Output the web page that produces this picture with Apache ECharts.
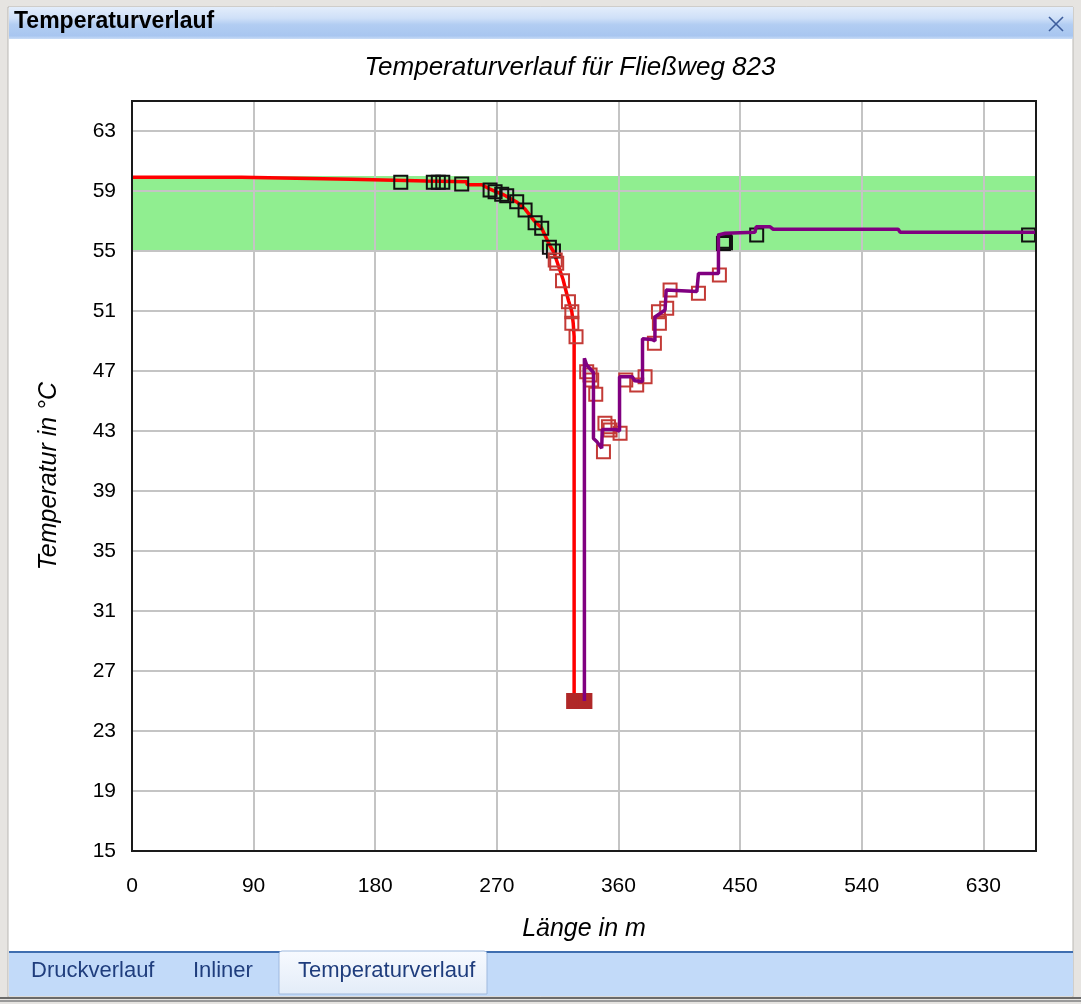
<!DOCTYPE html>
<html>
<head>
<meta charset="utf-8">
<script src="https://cdn.jsdelivr.net/npm/echarts@6/dist/echarts.min.js"></script>
<style>
html,body{margin:0;padding:0;background:#fff;}
#chart{width:1081px;height:1004px;}
</style>
</head>
<body>
<div id="chart"></div>
<script>
// ---- data ----
const xTicks = [0, 90, 180, 270, 360, 450, 540, 630];
const yTicks = [15, 19, 23, 27, 31, 35, 39, 43, 47, 51, 55, 59, 63];
const bandLow = 55;
const bandHigh = 60;
const tabNames = ['Druckverlauf', 'Inliner', 'Temperaturverlauf'];

// red temperature path (length m, temperature °C)
const redPath = [
  [0, 59.91], [81, 59.91], [81, 59.78], [162, 59.78], [162, 59.67], [218, 59.67],
  [218, 59.62], [248, 59.62], [248, 59.42], [259, 59.42], [265, 59.12], [270, 58.92],
  [275, 58.75], [280, 58.5], [285, 58.25], [291, 57.78], [298, 56.98], [303, 56.55],
  [309, 55.4], [312, 54.95], [314.5, 54.3], [319, 53.1], [323, 51.7], [325.5, 50.95],
  [326.5, 50.2], [327.2, 49.3], [327.2, 25]
];

// purple temperature path
const purplePath = [
  [334.8, 25], [334.8, 47.85], [336.5, 47.4], [341.5, 46.9], [341.5, 42.5], [343.9, 42.3],
  [347.6, 41.85], [348, 43.1], [358, 43.1], [360.8, 43.0], [360.8, 46.62], [370.2, 46.62],
  [372, 46.35], [377.8, 46.3], [377.8, 49.15], [384.6, 49.1], [387, 49.0], [387, 50.6],
  [394.5, 51.07], [395.3, 51.2], [395.3, 52.4], [418, 52.3], [419.2, 52.3], [419.2, 53.5],
  [434, 53.5], [434, 56.07], [439, 56.18], [461, 56.25], [462, 56.62], [472, 56.62],
  [474.5, 56.45], [567, 56.45], [568.5, 56.25], [669, 56.25]
];

// measurement markers
const markers = [
  [198.9, 59.58], [223, 59.58], [226.7, 59.58], [230, 59.58], [244, 59.47], [265, 59.07],
  [268.7, 58.95], [273.6, 58.78], [277.3, 58.69], [284.7, 58.29], [290.9, 57.73],
  [298.3, 56.89], [303.2, 56.51], [308.9, 55.25], [311.9, 55.0],
  [313.2, 54.4], [314.3, 54.18], [318.6, 53.02], [323, 51.62], [325.5, 50.95], [325.5, 50.18],
  [328.6, 49.29], [336.5, 46.95], [339, 46.73], [340.2, 46.4], [343.2, 45.45], [348.9, 41.62],
  [350, 43.51], [352.6, 43.29], [353.8, 43.07], [361.2, 42.85], [365.4, 46.4], [373.5, 46.07],
  [379.7, 46.62], [386.6, 48.85], [389.6, 50.95], [390.3, 50.18], [395.7, 51.18], [398.2, 52.4],
  [419.2, 52.18], [434.7, 53.4],
  [437.7, 55.5], [438.5, 55.65], [439.2, 55.55], [462.3, 56.07], [663.5, 56.07]
];
const lowMarkers = [[327.2, 25], [334.8, 25]];

const inBand = markers.filter(p => p[1] >= bandLow && p[1] <= bandHigh);
const outBand = markers.filter(p => p[1] < bandLow || p[1] > bandHigh);

const FONT = 'Liberation Sans, Arial, sans-serif';

const chart = echarts.init(document.getElementById('chart'));

const option = {
  backgroundColor: '#ffffff',
  animation: false,
  title: {
    text: 'Temperaturverlauf für Fließweg 823',
    left: 570,
    top: 55,
    padding: 0,
    textAlign: 'center',
    textStyle: {fontFamily: FONT, fontSize: 26, fontStyle: 'italic', fontWeight: 'normal', color: '#000'}
  },
  grid: {
    left: 132, top: 101, right: 45, bottom: 153,
    show: true, borderColor: '#1a1a1a', borderWidth: 2, backgroundColor: 'transparent',
    z: 10
  },
  xAxis: {
    type: 'value', min: 0, max: 669,
    z: 2,
    name: 'Länge in m', nameLocation: 'middle', nameGap: 66,
    nameTextStyle: {fontFamily: FONT, fontSize: 25, fontStyle: 'italic', color: '#000'},
    axisLine: {show: false},
    axisTick: {show: false, customValues: xTicks},
    axisLabel: {customValues: xTicks, fontFamily: FONT, fontSize: 21, color: '#000', margin: 25},
    splitLine: {show: true, lineStyle: {color: '#c4c4c4', width: 2}}
  },
  yAxis: {
    type: 'value', min: 15, max: 65,
    z: 2,
    name: 'Temperatur in °C', nameLocation: 'middle', nameGap: 70, nameRotate: 90,
    nameTextStyle: {fontFamily: FONT, fontSize: 25, fontStyle: 'italic', color: '#000'},
    axisLine: {show: false},
    axisTick: {show: false, customValues: yTicks},
    axisLabel: {customValues: yTicks, fontFamily: FONT, fontSize: 21, color: '#000', margin: 16},
    splitLine: {show: true, lineStyle: {color: '#c4c4c4', width: 2}}
  },
  series: [
    {
      name: 'band', type: 'line', data: [], z: 1,
      markArea: {
        silent: true,
        itemStyle: {color: '#90ee90', opacity: 1},
        data: [[{yAxis: bandLow}, {yAxis: bandHigh}]]
      }
    },
    {
      name: 'rot', type: 'line', data: redPath, z: 3,
      showSymbol: false, symbol: 'none',
      lineStyle: {color: '#ff0000', width: 3.5}
    },
    {
      name: 'inBand', type: 'scatter', data: inBand, z: 4,
      symbol: 'rect', symbolSize: 13,
      itemStyle: {color: 'rgba(0,0,0,0)', borderColor: '#111', borderWidth: 2, opacity: 1}
    },
    {
      name: 'outBand', type: 'scatter', data: outBand, z: 4,
      symbol: 'rect', symbolSize: 13,
      itemStyle: {color: 'rgba(0,0,0,0)', borderColor: '#c33a36', borderWidth: 2, opacity: 1}
    },
    {
      name: 'low', type: 'scatter', data: lowMarkers, z: 4,
      symbol: 'rect', symbolSize: [14, 14],
      itemStyle: {color: '#b02828', borderColor: '#b02828', borderWidth: 2, opacity: 1}
    },
    {
      name: 'violett', type: 'line', data: purplePath, z: 5,
      showSymbol: false, symbol: 'none',
      lineStyle: {color: '#800080', width: 3.5}
    }
  ],
  graphic: [
    // window frame
    {type: 'rect', z: -10, silent: true, shape: {x: 0, y: 0, width: 1081, height: 1004}, style: {fill: '#e6e4e1'}},
    {type: 'rect', z: -9, silent: true, shape: {x: 8, y: 7, width: 1065, height: 990}, style: {fill: '#ffffff', stroke: '#b9b7b3', lineWidth: 1}},
    // title bar
    {type: 'rect', z: -8, silent: true, shape: {x: 9, y: 7, width: 1064, height: 32},
      style: {fill: {type: 'linear', x: 0, y: 0, x2: 0, y2: 1, colorStops: [
        {offset: 0, color: '#e3edfb'}, {offset: 0.35, color: '#cfe0f8'},
        {offset: 0.55, color: '#b2cdf2'}, {offset: 0.9, color: '#a8c6f0'}, {offset: 1, color: '#c9dcf6'}]}}},
    {type: 'text', z: -7, silent: true, left: 14, top: 10,
      style: {text: 'Temperaturverlauf', font: 'bold 23px ' + FONT, fill: '#000'}},
    {type: 'line', z: -7, silent: true, shape: {x1: 1049, y1: 17, x2: 1063, y2: 31}, style: {stroke: '#3d5d9c', lineWidth: 1.6}},
    {type: 'line', z: -7, silent: true, shape: {x1: 1049, y1: 31, x2: 1063, y2: 17}, style: {stroke: '#3d5d9c', lineWidth: 1.6}},
    // tab strip
    {type: 'rect', z: -8, silent: true, shape: {x: 9, y: 951, width: 1064, height: 45}, style: {fill: '#c2daf9'}},
    {type: 'line', z: -7, silent: true, shape: {x1: 9, y1: 952, x2: 1073, y2: 952}, style: {stroke: '#3f6eb0', lineWidth: 2}},
    {type: 'rect', z: -6, silent: true, shape: {x: 279, y: 951, width: 208, height: 43, r: [3, 3, 0, 0]},
      style: {fill: {type: 'linear', x: 0, y: 0, x2: 0, y2: 1, colorStops: [
        {offset: 0, color: '#f7faff'}, {offset: 1, color: '#e3ecf8'}]}, stroke: '#9fb9de', lineWidth: 1}},
    {type: 'line', z: -7, silent: true, shape: {x1: 0, y1: 998, x2: 1081, y2: 998}, style: {stroke: '#6a6a6a', lineWidth: 2}},
    {type: 'line', z: -7, silent: true, shape: {x1: 0, y1: 1001, x2: 1081, y2: 1001}, style: {stroke: '#9a9a9a', lineWidth: 2}},
    {type: 'text', z: -5, silent: true, left: 31, top: 960, style: {text: tabNames[0], font: '22px ' + FONT, fill: '#1f3d7d'}},
    {type: 'text', z: -5, silent: true, left: 193, top: 960, style: {text: tabNames[1], font: '22px ' + FONT, fill: '#1f3d7d'}},
    {type: 'text', z: -5, silent: true, left: 298, top: 960, style: {text: tabNames[2], font: '22px ' + FONT, fill: '#1f3d7d'}}
  ]
};
chart.setOption(option);
</script>
</body>
</html>
